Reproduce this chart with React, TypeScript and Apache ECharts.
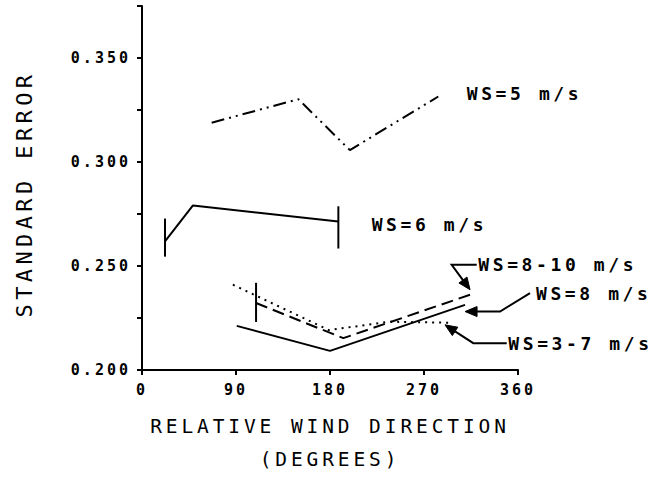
import React, { useEffect, useRef } from "react";
import * as echarts from "echarts";

// ---- data (relative wind direction in degrees, standard error) ----
const ws5Dir = [66.7, 149.7, 199, 283.7];
const ws5Err = [0.3189, 0.3302, 0.3057, 0.3315];

const ws6Dir = [22, 48.8, 188];
const ws6Err = [0.2618, 0.2791, 0.2714];

const ws810Dir = [109.2, 192.7, 318.8];
const ws810Err = [0.2322, 0.2153, 0.237];

const ws8Dir = [90.7, 180, 309.3];
const ws8Err = [0.2212, 0.2092, 0.2313];

const ws37Dir = [87, 179, 237, 297];
const ws37Err = [0.241, 0.2192, 0.2232, 0.2227];

// vertical bars: direction, low, high
const barDir = [22, 188, 109.2];
const barLow = [0.2545, 0.2584, 0.2231];
const barHigh = [0.2728, 0.2787, 0.2419];

// annotation labels: text, anchor (left edge, middle) in data units
const labelText = ["WS=5 m/s", "WS=6 m/s", "WS=8-10 m/s", "WS=8 m/s", "WS=3-7 m/s"];
const labelDir = [310.9, 219.9, 322, 377.2, 350.7];
const labelErr = [0.3331, 0.2699, 0.2506, 0.237, 0.2129];
// leader arrows (data units), last point is the arrow tip
const labelArrow: (number[][] | null)[] = [
  null,
  null,
  [[320.5, 0.2506], [296.5, 0.2506], [314.1, 0.2386]],
  [[371.5, 0.237], [342.8, 0.2281], [309.3, 0.2281]],
  [[349.2, 0.2129], [317.2, 0.2129], [290.1, 0.2217]],
];

const xMin = 0;
const xMax = 360;
const xInterval = 90;
const yMin = 0.2;
const yMax = 0.375;
const yInterval = 0.025;
const yLabelStep = 0.05;

const FONT = "'DejaVu Sans Mono', monospace";

const zip = (xs: number[], ys: number[]) => xs.map((x, i) => [x, ys[i]]);

export default function App() {
  const ref = useRef<HTMLDivElement>(null);
  useEffect(() => {
    if (!ref.current) return;
    const chart = echarts.init(ref.current, undefined, { renderer: "svg" });

    const lineSeries = (name: string, xs: number[], ys: number[], type: any) => ({
      name,
      type: "line",
      data: zip(xs, ys),
      symbol: "none",
      silent: true,
      lineStyle: { color: "#000", width: 2, type, cap: "butt" },
    });

    const bars = barDir.map((d, i) => ({
      name: "bar" + i,
      type: "line",
      data: [
        [d, barLow[i]],
        [d, barHigh[i]],
      ],
      symbol: "none",
      silent: true,
      lineStyle: { color: "#000", width: 2, type: "solid" },
    }));

    const annotations = {
      type: "custom",
      name: "labels",
      clip: false,
      silent: true,
      data: labelDir.map((d, i) => [d, labelErr[i], i]),
      renderItem: (params: any, api: any) => {
        const i = params.dataIndex;
        const p = api.coord([labelDir[i], labelErr[i]]);
        const children: any[] = [
          {
            type: "text",
            x: p[0],
            y: p[1],
            style: {
              text: labelText[i],
              fill: "#000",
              fontFamily: FONT,
              fontWeight: "bold",
              fontSize: 18,
              align: "left",
              verticalAlign: "middle",
            },
          },
        ];
        const path = labelArrow[i];
        if (path) {
          const pts = path.map((q) => api.coord(q));
          const n = pts.length;
          const [x1, y1] = pts[n - 2];
          const [x2, y2] = pts[n - 1];
          const ang = Math.atan2(y2 - y1, x2 - x1);
          const L = 12;
          const W = 5;
          const bx = x2 - L * Math.cos(ang);
          const by = y2 - L * Math.sin(ang);
          const nx = -Math.sin(ang);
          const ny = Math.cos(ang);
          const linePts = pts.slice(0, n - 1).concat([[bx, by]]);
          children.push({
            type: "polyline",
            shape: { points: linePts },
            style: { stroke: "#000", lineWidth: 2, fill: null },
          });
          children.push({
            type: "polygon",
            shape: {
              points: [
                [x2, y2],
                [bx + W * nx, by + W * ny],
                [bx - W * nx, by - W * ny],
              ],
            },
            style: { fill: "#000", stroke: "#000", lineWidth: 1 },
          });
        }
        return { type: "group", children };
      },
    };

    chart.setOption({
      animation: false,
      backgroundColor: "#fff",
      grid: {
        left: 142,
        right: 139,
        top: 6,
        bottom: 108,
        containLabel: false,
        outerBoundsMode: "none",
      },
      xAxis: {
        type: "value",
        min: xMin,
        max: xMax,
        interval: xInterval,
        name: "RELATIVE WIND DIRECTION\n(DEGREES)",
        nameLocation: "middle",
        nameGap: 40,
        nameTextStyle: { color: "#000", fontFamily: FONT, fontSize: 19.5, lineHeight: 33 },
        axisLine: { lineStyle: { color: "#000", width: 2 } },
        axisTick: { show: true, length: 5, lineStyle: { color: "#000", width: 2 } },
        axisLabel: {
          color: "#000",
          fontFamily: FONT,
          fontWeight: "bold",
          fontSize: 15,
          margin: 12,
        },
        splitLine: { show: false },
      },
      yAxis: {
        type: "value",
        min: yMin,
        max: yMax,
        interval: yInterval,
        name: "STANDARD ERROR",
        nameLocation: "middle",
        nameRotate: 90,
        nameGap: 107,
        nameTextStyle: {
          color: "#000",
          fontFamily: FONT,
          fontSize: 22,
          padding: [0, 12, 0, 0],
        },
        axisLine: { show: true, lineStyle: { color: "#000", width: 2 } },
        axisTick: { show: true, length: 5, lineStyle: { color: "#000", width: 2 } },
        axisLabel: {
          color: "#000",
          fontFamily: FONT,
          fontWeight: "bold",
          fontSize: 15,
          margin: 11,
          formatter: (v: number) =>
            Math.abs(v / yLabelStep - Math.round(v / yLabelStep)) < 1e-6 ? v.toFixed(3) : "",
        },
        splitLine: { show: false },
      },
      series: [
        lineSeries("WS=5 m/s", ws5Dir, ws5Err, [13, 5, 2, 5, 2, 5]),
        lineSeries("WS=6 m/s", ws6Dir, ws6Err, "solid"),
        lineSeries("WS=8-10 m/s", ws810Dir, ws810Err, [12, 6]),
        lineSeries("WS=8 m/s", ws8Dir, ws8Err, "solid"),
        lineSeries("WS=3-7 m/s", ws37Dir, ws37Err, [2, 5]),
        ...bars,
        annotations,
      ],
    } as any);
    return () => chart.dispose();
  }, []);

  return (
    <>
      <style>{`.chart-box text { letter-spacing: 0.2em; }`}</style>
      <div
        ref={ref}
        className="chart-box"
        style={{ position: "fixed", left: 0, top: 0, width: 657, height: 478, background: "#fff" }}
      />
    </>
  );
}
